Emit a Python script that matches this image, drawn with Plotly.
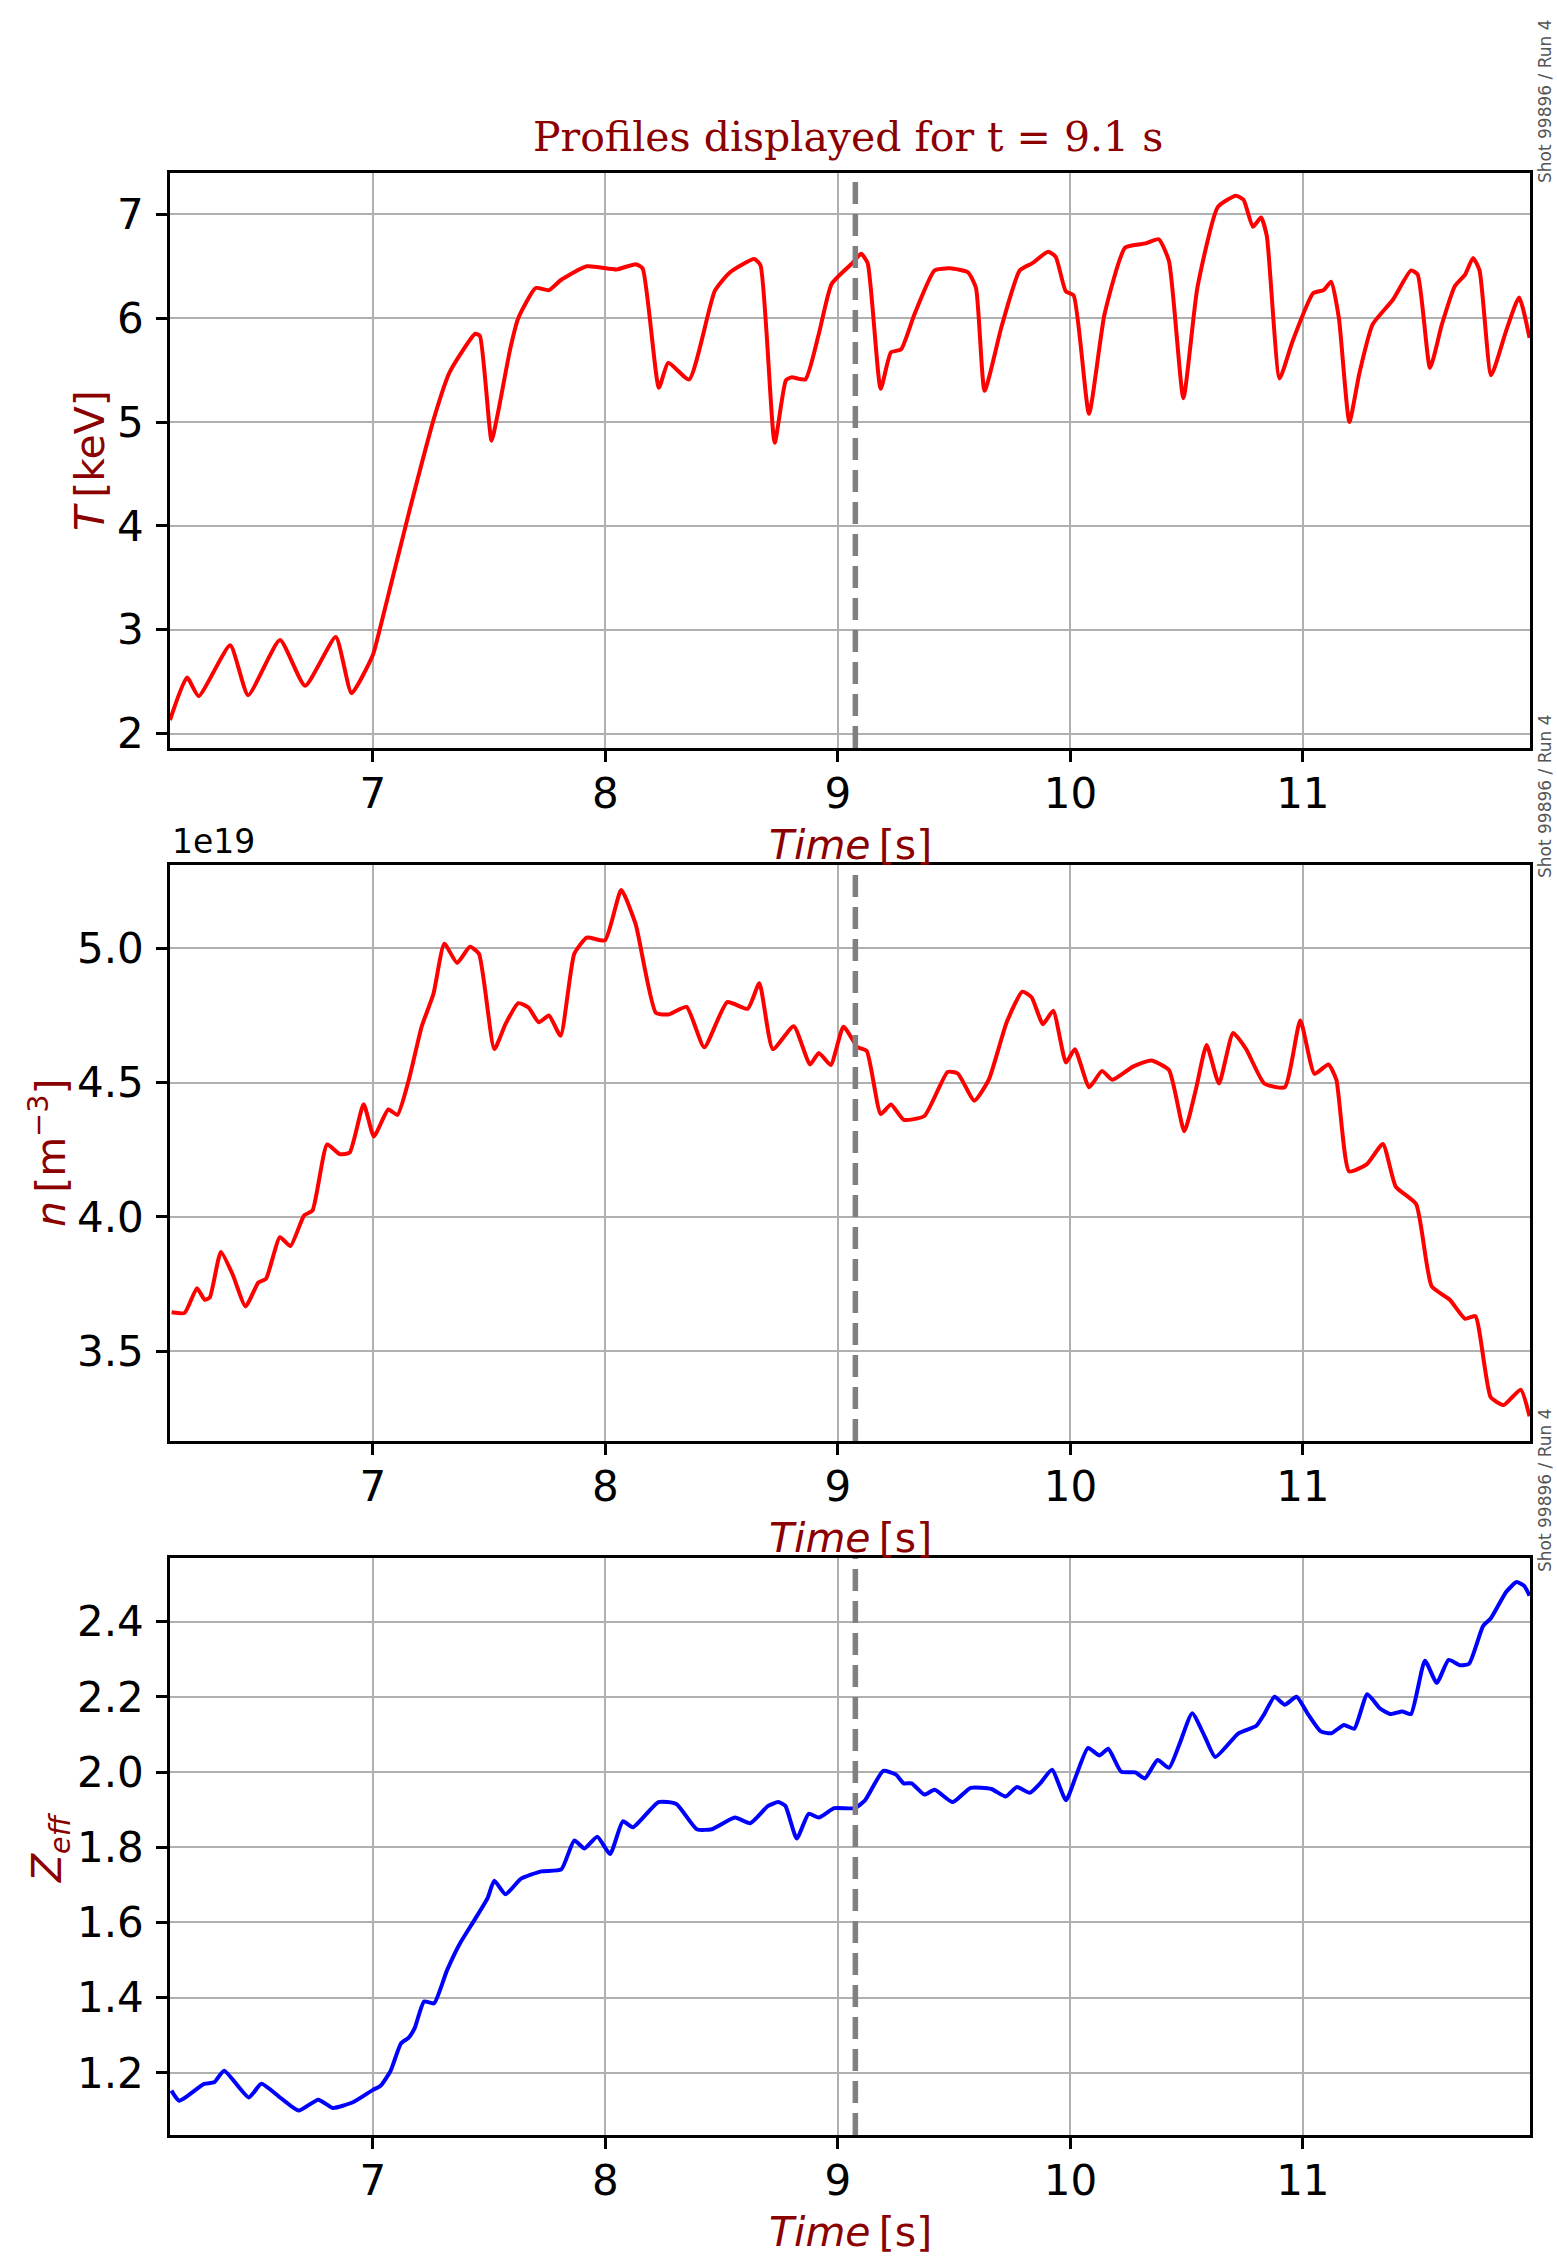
import plotly.graph_objects as go

# ---------------- data ----------------
t_T = [6.127, 6.20, 6.25, 6.386, 6.463, 6.60, 6.708, 6.84, 6.908, 7.0,
       7.03, 7.154, 7.263, 7.33, 7.44, 7.46, 7.51, 7.537, 7.59, 7.625,
       7.70, 7.757, 7.81, 7.92, 8.05, 8.13, 8.16, 8.23, 8.27, 8.36,
       8.47, 8.535, 8.64, 8.667, 8.728, 8.776, 8.80, 8.86, 8.918, 8.973,
       9.062, 9.10, 9.128, 9.184, 9.228, 9.272, 9.328, 9.416, 9.483, 9.56,
       9.594, 9.631, 9.704, 9.782, 9.837, 9.904, 9.937, 9.98, 10.014, 10.08,
       10.147, 10.236, 10.324, 10.38, 10.424, 10.486, 10.546, 10.634, 10.712, 10.745,
       10.785, 10.82, 10.845, 10.90, 10.956, 11.044, 11.089, 11.122, 11.155, 11.20,
       11.244, 11.30, 11.388, 11.465, 11.494, 11.547, 11.598, 11.654, 11.698, 11.732,
       11.76, 11.81, 11.876, 11.93, 11.975]
T_keV = [2.13, 2.54, 2.36, 2.85, 2.37, 2.90, 2.46, 2.93, 2.39, 2.76,
         3.01, 4.12, 5.04, 5.48, 5.85, 5.83, 4.82, 5.08, 5.70, 6.00,
         6.29, 6.27, 6.37, 6.50, 6.47, 6.52, 6.48, 5.33, 5.57, 5.41,
         6.26, 6.44, 6.57, 6.51, 4.80, 5.40, 5.43, 5.41, 5.85, 6.33,
         6.53, 6.62, 6.53, 5.32, 5.67, 5.70, 6.03, 6.46, 6.48, 6.44,
         6.29, 5.30, 5.92, 6.46, 6.53, 6.64, 6.59, 6.26, 6.22, 5.08,
         6.04, 6.68, 6.72, 6.76, 6.55, 5.23, 6.29, 7.07, 7.18, 7.14,
         6.88, 6.97, 6.79, 5.42, 5.78, 6.24, 6.27, 6.35, 6.00, 5.00,
         5.48, 5.94, 6.18, 6.46, 6.42, 5.52, 5.94, 6.31, 6.42, 6.58,
         6.46, 5.45, 5.89, 6.20, 5.81]

t_n = [6.134, 6.19, 6.243, 6.276, 6.298, 6.346, 6.397, 6.452, 6.507, 6.54,
       6.60, 6.645, 6.704, 6.74, 6.803, 6.857, 6.90, 6.96, 7.004, 7.066,
       7.105, 7.154, 7.21, 7.26, 7.307, 7.362, 7.417, 7.456, 7.522, 7.57,
       7.625, 7.669, 7.713, 7.757, 7.807, 7.866, 7.92, 7.998, 8.068, 8.13,
       8.217, 8.272, 8.349, 8.425, 8.524, 8.612, 8.662, 8.72, 8.81, 8.88,
       8.918, 8.969, 9.024, 9.084, 9.124, 9.184, 9.228, 9.283, 9.372, 9.472,
       9.516, 9.587, 9.649, 9.726, 9.793, 9.833, 9.882, 9.926, 9.981, 10.019,
       10.081, 10.136, 10.18, 10.269, 10.347, 10.424, 10.49, 10.54, 10.586, 10.639,
       10.70, 10.756, 10.834, 10.922, 10.989, 11.05, 11.11, 11.144, 11.199, 11.277,
       11.344, 11.40, 11.487, 11.554, 11.632, 11.698, 11.742, 11.808, 11.864, 11.937,
       11.975]
n_e19 = [3.645, 3.643, 3.735, 3.692, 3.70, 3.87, 3.785, 3.667, 3.756, 3.77,
         3.925, 3.892, 4.006, 4.024, 4.27, 4.234, 4.24, 4.42, 4.30, 4.40,
         4.38, 4.51, 4.71, 4.83, 5.017, 4.946, 5.006, 4.98, 4.625, 4.718,
         4.796, 4.78, 4.725, 4.75, 4.675, 4.98, 5.04, 5.03, 5.217, 5.09,
         4.76, 4.754, 4.782, 4.632, 4.80, 4.775, 4.87, 4.625, 4.71, 4.568,
         4.611, 4.566, 4.708, 4.633, 4.618, 4.383, 4.419, 4.362, 4.376, 4.54,
         4.534, 4.433, 4.511, 4.725, 4.839, 4.818, 4.718, 4.768, 4.575, 4.625,
         4.483, 4.544, 4.511, 4.56, 4.583, 4.547, 4.319, 4.476, 4.64, 4.497,
         4.685, 4.625, 4.497, 4.483, 4.732, 4.533, 4.568, 4.511, 4.17, 4.198,
         4.272, 4.112, 4.048, 3.742, 3.692, 3.621, 3.631, 3.329, 3.30, 3.357,
         3.258]

t_z = [6.133, 6.167, 6.274, 6.317, 6.36, 6.466, 6.52, 6.594, 6.68, 6.765,
       6.827, 6.914, 7.0, 7.033, 7.077, 7.12, 7.154, 7.18, 7.22, 7.263,
       7.318, 7.373, 7.439, 7.493, 7.522, 7.57, 7.636, 7.724, 7.81, 7.866,
       7.91, 7.965, 8.02, 8.075, 8.118, 8.228, 8.305, 8.393, 8.458, 8.557,
       8.623, 8.70, 8.743, 8.774, 8.823, 8.874, 8.918, 8.984, 9.073, 9.117,
       9.195, 9.25, 9.283, 9.317, 9.372, 9.416, 9.494, 9.571, 9.66, 9.722,
       9.77, 9.826, 9.87, 9.921, 9.981, 10.025, 10.076, 10.125, 10.163, 10.218,
       10.28, 10.32, 10.375, 10.424, 10.468, 10.524, 10.579, 10.623, 10.723, 10.80,
       10.834, 10.878, 10.922, 10.973, 11.022, 11.077, 11.122, 11.177, 11.221, 11.277,
       11.332, 11.377, 11.427, 11.465, 11.525, 11.576, 11.627, 11.676, 11.715, 11.775,
       11.808, 11.875, 11.919, 11.952, 11.975]
zeff = [1.153, 1.126, 1.171, 1.175, 1.206, 1.135, 1.171, 1.138, 1.10, 1.129,
        1.107, 1.122, 1.155, 1.166, 1.207, 1.278, 1.294, 1.32, 1.39, 1.385,
        1.472, 1.543, 1.609, 1.665, 1.711, 1.675, 1.716, 1.736, 1.741, 1.818,
        1.797, 1.828, 1.782, 1.869, 1.853, 1.92, 1.915, 1.848, 1.848, 1.879,
        1.864, 1.91, 1.92, 1.91, 1.823, 1.889, 1.879, 1.904, 1.904, 1.925,
        2.003, 1.993, 1.97, 1.97, 1.94, 1.953, 1.92, 1.958, 1.955, 1.935,
        1.96, 1.945, 1.97, 2.006, 1.925, 1.991, 2.064, 2.044, 2.062, 2.001,
        1.999, 1.983, 2.032, 2.011, 2.072, 2.156, 2.093, 2.04, 2.103, 2.123,
        2.154, 2.20, 2.179, 2.20, 2.154, 2.108, 2.103, 2.125, 2.115, 2.207,
        2.169, 2.154, 2.161, 2.154, 2.296, 2.237, 2.298, 2.284, 2.288, 2.388,
        2.408, 2.479, 2.505, 2.495, 2.469]

assert len(t_T) == len(T_keV)
assert len(t_n) == len(n_e19)
assert len(t_z) == len(zeff)

t_display = 9.075
x_ticks = [7, 8, 9, 10, 11]
T_ticks = [2, 3, 4, 5, 6, 7]
n_ticks = [3.5, 4.0, 4.5, 5.0]
z_ticks = [1.2, 1.4, 1.6, 1.8, 2.0, 2.2, 2.4]
title_text = "Profiles displayed for t = 9.1 s"
shot_text = "Shot 99896 / Run 4"

# ---------------- figure ----------------
W, H = 1557, 2256
ML, MR, MT, MB = 170, 27, 173, 121
PH = H - MT - MB  # 1962
PW = W - ML - MR  # 1360


def py(Y):  # pixel y -> paper y
    return (H - MB - Y) / PH


def px(X):  # pixel x -> paper x
    return (X - ML) / PW


DARKRED = "#8b0000"
FONT = "DejaVu Sans"
FS = 42

fig = go.Figure()
fig.add_trace(go.Scatter(x=t_T, y=T_keV, mode="lines",
                         line=dict(color="#ff0000", width=4, shape="spline", smoothing=0.5),
                         xaxis="x", yaxis="y", showlegend=False))
fig.add_trace(go.Scatter(x=t_n, y=n_e19, mode="lines",
                         line=dict(color="#ff0000", width=4, shape="spline", smoothing=0.5),
                         xaxis="x2", yaxis="y2", showlegend=False))
fig.add_trace(go.Scatter(x=t_z, y=zeff, mode="lines",
                         line=dict(color="#0000ff", width=4, shape="spline", smoothing=0.5),
                         xaxis="x3", yaxis="y3", showlegend=False))

common = dict(showline=True, linecolor="black", linewidth=2.7, mirror=True,
              ticks="outside", ticklen=11, tickwidth=2.5, tickcolor="black",
              showgrid=True, gridcolor="#b0b0b0", gridwidth=2, zeroline=False,
              tickfont=dict(family=FONT, size=FS, color="black"))

xr = [6.127, 11.977]
XSO = -4
YSO = 4
fig.update_layout(
    width=W, height=H,
    margin=dict(l=ML, r=MR, t=MT, b=MB, autoexpand=False),
    paper_bgcolor="white", plot_bgcolor="white",
    xaxis=dict(domain=[0, 1], anchor="y", range=xr, tickvals=x_ticks, ticklabelstandoff=XSO, **common),
    yaxis=dict(domain=[py(748), 1], anchor="x", range=[1.861, 7.398], tickvals=T_ticks,
               ticklabelstandoff=YSO, **common),
    xaxis2=dict(domain=[0, 1], anchor="y2", range=xr, tickvals=x_ticks, ticklabelstandoff=XSO, **common),
    yaxis2=dict(domain=[py(1441), py(865)], anchor="x2", range=[3.166, 5.3105], tickvals=n_ticks,
                tickformat=".1f", ticklabelstandoff=YSO, **common),
    xaxis3=dict(domain=[0, 1], anchor="y3", range=xr, tickvals=x_ticks, ticklabelstandoff=XSO, **common),
    yaxis3=dict(domain=[0, py(1558)], anchor="x3", range=[1.035, 2.569], tickvals=z_ticks,
                tickformat=".1f", ticklabelstandoff=YSO, **common),
)

# dashed marker of displayed time
for xa, ya in [("x", "y"), ("x2", "y2"), ("x3", "y3")]:
    fig.add_shape(type="line", xref=xa, yref=ya + " domain", x0=t_display, x1=t_display, y0=0, y1=1,
                  line=dict(color="#808080", width=5.5, dash="22px,10px"), layer="above")

ann = []
# title
ann.append(dict(text=title_text, xref="paper", yref="paper", x=px(848), y=py(137),
                xanchor="center", yanchor="middle", showarrow=False,
                font=dict(family="DejaVu Serif", size=41, color=DARKRED)))
# x titles
for Y in [845, 1538, 2232]:
    ann.append(dict(text="<i>Time</i>\u2009[s]", xref="paper", yref="paper", x=0.5, y=py(Y),
                    xanchor="center", yanchor="middle", showarrow=False,
                    font=dict(family=FONT, size=41, color=DARKRED)))
# y titles
ann.append(dict(text="<i>T</i>\u2009[keV]", xref="paper", yref="paper", x=px(90), y=py(461),
                xanchor="center", yanchor="middle", textangle=-90, showarrow=False,
                font=dict(family=FONT, size=41, color=DARKRED)))
ann.append(dict(text="<i>n</i>\u2009[m<sup>−3</sup>]", xref="paper", yref="paper", x=px(48), y=py(1153),
                xanchor="center", yanchor="middle", textangle=-90, showarrow=False,
                font=dict(family=FONT, size=41, color=DARKRED)))
ann.append(dict(text="<i>Z<sub>eff</sub></i>", xref="paper", yref="paper", x=px(50), y=py(1847),
                xanchor="center", yanchor="middle", textangle=-90, showarrow=False,
                font=dict(family=FONT, size=41, color=DARKRED)))
# offset text
ann.append(dict(text="1e19", xref="paper", yref="paper", x=px(170), y=py(841),
                xanchor="left", yanchor="middle", showarrow=False,
                font=dict(family=FONT, size=33, color="black")))
# shot labels
for Y in [102, 797, 1491]:
    ann.append(dict(text=shot_text, xref="paper", yref="paper", x=px(1545), y=py(Y),
                    xanchor="center", yanchor="middle", textangle=-90, showarrow=False,
                    font=dict(family=FONT, size=17, color="#555555")))
fig.update_layout(annotations=ann)

fig.write_html("out.html")
